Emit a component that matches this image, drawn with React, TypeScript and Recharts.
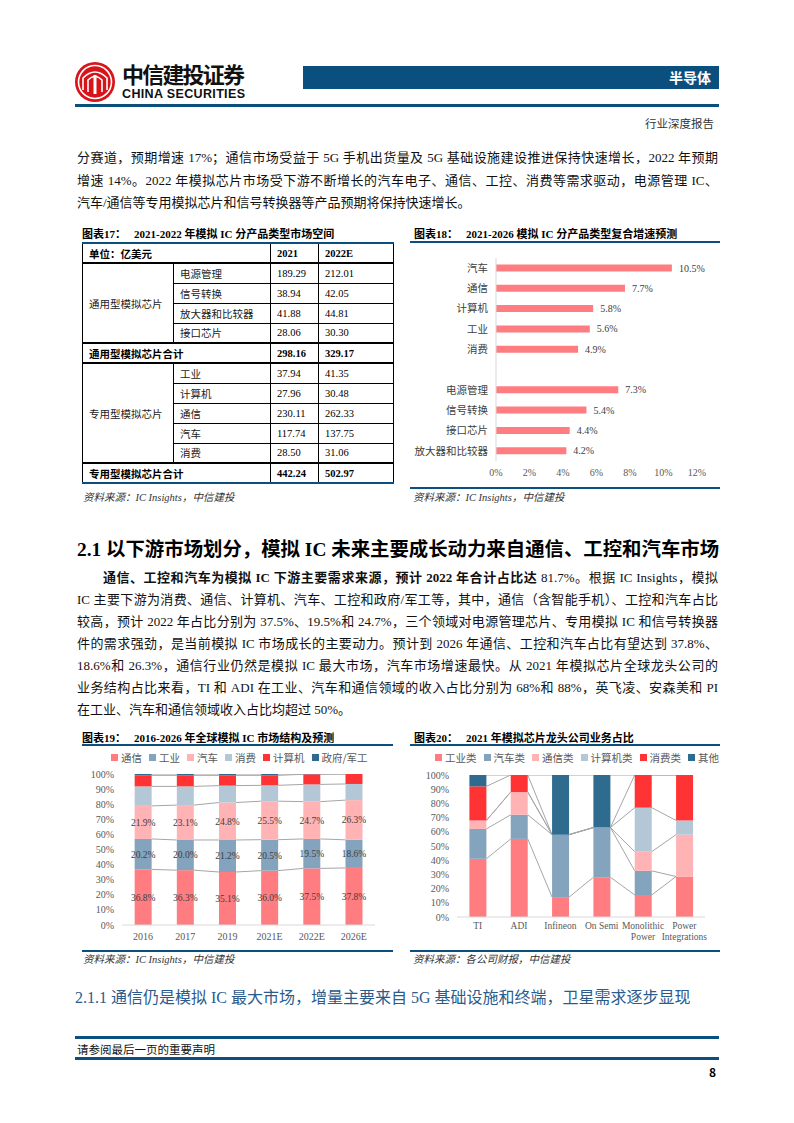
import React from "react"
import { BarChart, Bar, XAxis, YAxis, LabelList, Legend } from "recharts"

const SERIF = '"Liberation Serif", "Times New Roman", "Noto Sans CJK SC", serif'
const SANS = '"Noto Sans CJK SC", "Liberation Sans", sans-serif'
const BLUE = "#0B4F7F"
const AXIS_TEXT = "#595959"

// 图表17 表格
const tableYears = ["2021", "2022E"]
const generalItems = ["电源管理", "信号转换", "放大器和比较器", "接口芯片"]
const general2021 = ["189.29", "38.94", "41.88", "28.06"]
const general2022 = ["212.01", "42.05", "44.81", "30.30"]
const generalTotal = ["298.16", "329.17"]
const specialItems = ["工业", "计算机", "通信", "汽车", "消费"]
const special2021 = ["37.94", "27.96", "230.11", "117.74", "28.50"]
const special2022 = ["41.35", "30.48", "262.33", "137.75", "31.06"]
const specialTotal = ["442.24", "502.97"]

// 图表18
const cagrCategories = ["汽车", "通信", "计算机", "工业", "消费", "", "电源管理", "信号转换", "接口芯片", "放大器和比较器"]
const cagrValues = [10.5, 7.7, 5.8, 5.6, 4.9, null, 7.3, 5.4, 4.4, 4.2]
const cagrTicks = [0, 2, 4, 6, 8, 10, 12]

// 图表19
const marketYears = ["2016", "2017", "2019", "2021E", "2022E", "2026E"]
const marketNames = ["通信", "工业", "汽车", "消费", "计算机", "政府/军工"]
const marketComm = [36.8, 36.3, 35.1, 36.0, 37.5, 37.8]
const marketInd = [20.2, 20.0, 21.2, 20.5, 19.5, 18.6]
const marketAuto = [21.9, 23.1, 24.8, 25.5, 24.7, 26.3]
const marketCons = [12.9, 12.4, 11.2, 10.5, 11.4, 10.7]
const marketComp = [7.3, 7.3, 6.8, 6.6, 6.7, 6.6]
const marketGov = [0.9, 0.9, 0.9, 0.9, 0.2, 0.0]

// 图表20
const companies = ["TI", "ADI", "Infineon", "On Semi", "Monolithic\nPower", "Power\nIntegrations"]
const bizNames = ["工业类", "汽车类", "通信类", "计算机类", "消费类", "其他"]
const bizInd = [41, 55, 14, 28, 15.5, 28.5]
const bizAuto = [21, 17, 44, 35, 17, 0]
const bizComm = [6, 16, 0, 0, 13.5, 29.5]
const bizComp = [0, 0, 0, 0, 31, 10]
const bizCons = [24, 12, 0, 0, 23, 32]
const bizOther = [8, 0, 42, 37, 0, 0]

const pctTicks = [0, 10, 20, 30, 40, 50, 60, 70, 80, 90, 100]
const stackColors = ["#FF7C80", "#84A3BC", "#FFB3B5", "#B4C7D7", "#FF3333", "#2E6B8F"]
const keys = ["s0", "s1", "s2", "s3", "s4", "s5"]

const cagrData = cagrCategories.map((name, i) => ({ name, value: cagrValues[i] }))

const marketData = marketYears.map((name, i) => ({
  name,
  s0: marketComm[i],
  s1: marketInd[i],
  s2: marketAuto[i],
  s3: marketCons[i],
  s4: marketComp[i],
  s5: marketGov[i],
}))

const bizData = companies.map((name, i) => ({
  name,
  s0: bizInd[i],
  s1: bizAuto[i],
  s2: bizComm[i],
  s3: bizComp[i],
  s4: bizCons[i],
  s5: bizOther[i],
}))

const para1 = [
  "分赛道，预期增速 17%；通信市场受益于 5G 手机出货量及 5G 基础设施建设推进保持快速增长，2022 年预期",
  "增速 14%。2022 年模拟芯片市场受下游不断增长的汽车电子、通信、工控、消费等需求驱动，电源管理 IC、",
  "汽车/通信等专用模拟芯片和信号转换器等产品预期将保持快速增长。",
]

const para2 = [
  "IC 主要下游为消费、通信、计算机、汽车、工控和政府/军工等，其中，通信（含智能手机）、工控和汽车占比",
  "较高，预计 2022 年占比分别为 37.5%、19.5%和 24.7%，三个领域对电源管理芯片、专用模拟 IC 和信号转换器",
  "件的需求强劲，是当前模拟 IC 市场成长的主要动力。预计到 2026 年通信、工控和汽车占比有望达到 37.8%、",
  "18.6%和 26.3%，通信行业仍然是模拟 IC 最大市场，汽车市场增速最快。从 2021 年模拟芯片全球龙头公司的",
  "业务结构占比来看，TI 和 ADI 在工业、汽车和通信领域的收入占比分别为 68%和 88%，英飞凌、安森美和 PI",
  "在工业、汽车和通信领域收入占比均超过 50%。",
]

// bottom series draws the bar and the grey series lines to the next column
function seriesShape(data: any[], band: number) {
  return (props: any) => {
    const { x, y, width, height, payload, fill } = props
    const h = Math.abs(height)
    const top = Math.min(y, y + height)
    const bottom = top + h
    const idx = data.findIndex((d) => d.name === payload.name)
    const next = data[idx + 1]
    const k = h / payload.s0
    const lines: any[] = []
    if (next) {
      let c0 = 0
      let c1 = 0
      const x1 = x + width
      const x2 = x + band
      keys.forEach((key) => {
        c0 += payload[key]
        c1 += next[key]
        lines.push(
          <line key={key} x1={x1} y1={bottom - c0 * k} x2={x2} y2={bottom - c1 * k} stroke="#A6A6A6" strokeWidth={1} />
        )
      })
    }
    return (
      <g>
        {lines}
        <rect x={x} y={top} width={width} height={h} fill={fill} />
      </g>
    )
  }
}

function legendContent(names: string[], left: number, height: number) {
  return () => (
    <div
      style={{
        display: "flex",
        alignItems: "center",
        height,
        width: 310,
        paddingLeft: left,
        boxSizing: "border-box",
        paddingBottom: 8,
        fontFamily: SANS,
        fontSize: 10.5,
        color: AXIS_TEXT,
        whiteSpace: "nowrap",
      }}
    >
      {names.map((n, i) => (
        <span key={n} style={{ display: "flex", alignItems: "center", marginRight: 7, flexShrink: 0 }}>
          <span style={{ width: 7, height: 7, background: stackColors[i], marginRight: 3 }} />
          {n}
        </span>
      ))}
    </div>
  )
}

const MultiTick = (props: any) => {
  const { x, y, payload } = props
  const lines = String(payload.value).split("\n")
  return (
    <text x={x} y={y} textAnchor="middle" fontSize={9.5} fill={AXIS_TEXT} fontFamily={SERIF}>
      {lines.map((l, i) => (
        <tspan key={i} x={x} dy={i === 0 ? 4 : 10.5}>
          {l}
        </tspan>
      ))}
    </text>
  )
}

function StackChart(props: {
  data: any[]
  names: string[]
  labelled: boolean
  legendLeft: number
  legendHeight: number
  xHeight: number
  right: number
  multiTick?: boolean
}) {
  const W = 310
  const H = 200
  const yw = 44
  const band = (W - yw - props.right) / props.data.length
  return (
    <BarChart
      width={W}
      height={H}
      data={props.data}
      margin={{ top: 0, right: props.right, left: 0, bottom: 0 }}
      barCategoryGap="30%"
    >
      <Legend
        verticalAlign="top"
        align="left"
        height={props.legendHeight}
        content={legendContent(props.names, props.legendLeft, props.legendHeight)}
      />
      <XAxis
        dataKey="name"
        height={props.xHeight}
        tickLine={false}
        axisLine={{ stroke: "#D9D9D9" }}
        interval={0}
        tick={props.multiTick ? <MultiTick /> : { fontSize: 10, fill: AXIS_TEXT, fontFamily: SERIF }}
      />
      <YAxis
        width={yw}
        domain={[0, 100]}
        ticks={pctTicks}
        interval={0}
        allowDataOverflow
        tickLine={false}
        axisLine={false}
        tickFormatter={(v) => `${v}%`}
        tick={{ fontSize: 10, fill: AXIS_TEXT, fontFamily: SERIF }}
      />
      {keys.map((key, i) => (
        <Bar
          key={key}
          dataKey={key}
          name={props.names[i]}
          stackId="a"
          fill={stackColors[i]}
          isAnimationActive={false}
          shape={i === 0 ? seriesShape(props.data, band) : undefined}
        >
          {props.labelled && i < 3 ? (
            <LabelList
              dataKey={key}
              position="center"
              fontSize={9.5}
              fill="#404040"
              fontFamily={SERIF}
              formatter={(v: any) => `${Number(v).toFixed(1)}%`}
            />
          ) : null}
        </Bar>
      ))}
    </BarChart>
  )
}

function CagrChart() {
  return (
    <BarChart
      width={310}
      height={240}
      data={cagrData}
      layout="vertical"
      margin={{ top: 10, right: 23, left: 0, bottom: 0 }}
      barCategoryGap="32%"
    >
      <XAxis
        type="number"
        domain={[0, 12]}
        ticks={cagrTicks}
        height={27}
        tickLine={false}
        axisLine={false}
        tickFormatter={(v) => `${v}%`}
        tick={{ fontSize: 10, fill: AXIS_TEXT, fontFamily: SERIF }}
      />
      <YAxis
        type="category"
        dataKey="name"
        width={86}
        tickLine={false}
        axisLine={{ stroke: "#D9D9D9" }}
        interval={0}
        tick={{ fontSize: 10.5, fill: "#404040", fontFamily: SANS }}
      />
      <Bar dataKey="value" fill="#FF7C80" isAnimationActive={false}>
        <LabelList
          dataKey="value"
          position="right"
          offset={7}
          fontSize={10}
          fill="#404040"
          fontFamily={SERIF}
          formatter={(v: any) => (v == null ? "" : `${v}%`)}
        />
      </Bar>
    </BarChart>
  )
}

const abs = (left: number, top: number, extra: any = {}) => ({ position: "absolute" as const, left, top, ...extra })

function Title({ left, top, num, text }: { left: number; top: number; num: string; text: string }) {
  return (
    <div style={abs(left, top, { fontSize: 11, fontWeight: 700, fontFamily: SERIF, whiteSpace: "nowrap", lineHeight: "14px" })}>
      <span style={{ fontFamily: SANS }}>图表</span>
      {num}
      <span style={{ fontFamily: SANS }}>：</span>
      <span style={{ marginLeft: 8 }}>{text}</span>
    </div>
  )
}

function Source({ left, top, text }: { left: number; top: number; text: string }) {
  return (
    <div style={abs(left, top, { fontSize: 10.5, fontStyle: "italic", fontFamily: SERIF, color: "#333", whiteSpace: "nowrap" })}>
      {text}
    </div>
  )
}

const HLine = ({ left, top, width, h = 2 }: { left: number; top: number; width: number; h?: number }) => (
  <div style={abs(left, top, { width, height: h, background: BLUE })} />
)

function Line({ top, children, last, indent }: { top: number; children: any; last?: boolean; indent?: number }) {
  return (
    <div
      style={abs(77 + (indent || 0), top, {
        width: 641 - (indent || 0),
        fontSize: 13,
        lineHeight: "18px",
        fontFamily: SERIF,
        color: "#111",
        whiteSpace: "nowrap",
        textAlign: "justify",
        textAlignLast: last ? "left" : "justify",
      })}
    >
      {children}
    </div>
  )
}

const cell: any = {
  border: "1px solid #000",
  padding: "0 6px",
  height: 20,
  fontSize: 10.5,
  fontFamily: SERIF,
  whiteSpace: "nowrap",
  boxSizing: "border-box",
}
const boldCell: any = { ...cell, fontWeight: 700 }
const thick: any = { borderTop: "2px solid #000" }

function MarketTable() {
  return (
    <table
      style={{
        ...abs(82, 242),
        width: 311,
        borderCollapse: "collapse",
        tableLayout: "fixed",
        borderTop: `2px solid ${BLUE}`,
        borderBottom: `2px solid ${BLUE}`,
      }}
    >
      <colgroup>
        <col style={{ width: 91 }} />
        <col style={{ width: 97 }} />
        <col style={{ width: 48 }} />
        <col style={{ width: 75 }} />
      </colgroup>
      <tbody>
        <tr>
          <td colSpan={2} style={{ ...boldCell, borderTop: `2px solid ${BLUE}`, fontFamily: SANS }}>单位：亿美元</td>
          <td style={{ ...boldCell, borderTop: `2px solid ${BLUE}` }}>{tableYears[0]}</td>
          <td style={{ ...boldCell, borderTop: `2px solid ${BLUE}` }}>{tableYears[1]}</td>
        </tr>
        {generalItems.map((item, i) => (
          <tr key={item}>
            {i === 0 ? (
              <td rowSpan={4} style={{ ...cell, ...thick, fontFamily: SANS, color: "#222" }}>通用型模拟芯片</td>
            ) : null}
            <td style={{ ...cell, ...(i === 0 ? thick : {}), fontFamily: SANS, color: "#222" }}>{item}</td>
            <td style={{ ...cell, ...(i === 0 ? thick : {}) }}>{general2021[i]}</td>
            <td style={{ ...cell, ...(i === 0 ? thick : {}) }}>{general2022[i]}</td>
          </tr>
        ))}
        <tr>
          <td colSpan={2} style={{ ...boldCell, ...thick, fontFamily: SANS }}>通用型模拟芯片合计</td>
          <td style={{ ...boldCell, ...thick }}>{generalTotal[0]}</td>
          <td style={{ ...boldCell, ...thick }}>{generalTotal[1]}</td>
        </tr>
        {specialItems.map((item, i) => (
          <tr key={item}>
            {i === 0 ? (
              <td rowSpan={5} style={{ ...cell, ...thick, fontFamily: SANS, color: "#222" }}>专用型模拟芯片</td>
            ) : null}
            <td style={{ ...cell, ...(i === 0 ? thick : {}), fontFamily: SANS, color: "#222" }}>{item}</td>
            <td style={{ ...cell, ...(i === 0 ? thick : {}) }}>{special2021[i]}</td>
            <td style={{ ...cell, ...(i === 0 ? thick : {}) }}>{special2022[i]}</td>
          </tr>
        ))}
        <tr>
          <td colSpan={2} style={{ ...boldCell, ...thick, fontFamily: SANS }}>专用型模拟芯片合计</td>
          <td style={{ ...boldCell, ...thick }}>{specialTotal[0]}</td>
          <td style={{ ...boldCell, ...thick }}>{specialTotal[1]}</td>
        </tr>
      </tbody>
    </table>
  )
}

function Logo() {
  return (
    <svg style={abs(74, 54)} width={178} height={52}>
      <circle cx={21} cy={28} r={20} fill="#D7141A" />
      <circle cx={21} cy={28} r={16.5} fill="none" stroke="#fff" strokeWidth={1.6} />
      <path d="M9 36 V24 Q21 12 33 24 V36" fill="none" stroke="#fff" strokeWidth={1.6} />
      <path d="M14 38 V26 Q21 19 28 26 V38" fill="none" stroke="#fff" strokeWidth={1.6} />
      <rect x={19.5} y={21} width={3} height={19} fill="#fff" />
      <text x={48} y={29} fontSize={22} fontWeight={700} fontFamily={SANS} fill="#111" textLength={123}>
        中信建投证券
      </text>
      <text x={48} y={44} fontSize={12.5} fontWeight={700} fontFamily='"Liberation Sans", Arial, sans-serif' fill="#111" textLength={123}>
        CHINA SECURITIES
      </text>
    </svg>
  )
}

export default function App() {
  return (
    <div style={{ position: "absolute", left: 0, top: 0, width: 794, height: 1123, background: "#fff", fontFamily: SERIF }}>
      <Logo />
      <div style={abs(303, 66, { width: 416, height: 23, background: BLUE })} />
      <div style={abs(600, 66, { width: 111, height: 23, lineHeight: "23px", textAlign: "right", color: "#fff", fontWeight: 700, fontSize: 14, fontFamily: SANS })}>
        半导体
      </div>
      <HLine left={75} top={104} width={644} h={3} />
      <div style={abs(600, 115, { width: 114, textAlign: "right", fontSize: 11.5, color: "#333", fontFamily: SANS })}>行业深度报告</div>

      <Line top={149}>{para1[0]}</Line>
      <Line top={172}>{para1[1]}</Line>
      <Line top={194} last>{para1[2]}</Line>

      <Title left={82} top={226} num="17" text="2021-2022 年模拟 IC 分产品类型市场空间" />
      <MarketTable />
      <Source left={83} top={489} text="资料来源：IC Insights，中信建投" />

      <Title left={414} top={226} num="18" text="2021-2026 模拟 IC 分产品类型复合增速预测" />
      <HLine left={410} top={241} width={310} />
      <div style={abs(410, 248)}>
        <CagrChart />
      </div>
      <HLine left={410} top={487} width={310} h={1.5} />
      <Source left={413} top={489} text="资料来源：IC Insights，中信建投" />

      <div style={abs(77, 536, { fontSize: 19.4, fontWeight: 700, fontFamily: SERIF, whiteSpace: "nowrap", color: "#000", lineHeight: "24px" })}>
        2.1 <span style={{ fontFamily: SANS }}>以下游市场划分，模拟</span> IC <span style={{ fontFamily: SANS }}>未来主要成长动力来自通信、工控和汽车市场</span>
      </div>

      <Line top={569} indent={26}>
        <b>通信、工控和汽车为模拟 IC 下游主要需求来源，预计 2022 年合计占比达</b> 81.7%。根据 IC Insights，模拟
      </Line>
      {para2.map((t, i) => (
        <Line key={i} top={591 + i * 22} last={i === para2.length - 1}>
          {t}
        </Line>
      ))}

      <Title left={82} top={730} num="19" text="2016-2026 年全球模拟 IC 市场结构及预测" />
      <HLine left={82} top={744} width={311} />
      <div style={abs(78, 748)}>
        <StackChart data={marketData} names={marketNames} labelled legendLeft={33} legendHeight={26} xHeight={23} right={13} />
      </div>
      <HLine left={82} top={950} width={311} h={1.5} />
      <Source left={83} top={951} text="资料来源：IC Insights，中信建投" />

      <Title left={414} top={730} num="20" text="2021 年模拟芯片龙头公司业务占比" />
      <HLine left={410} top={744} width={310} />
      <div style={abs(413, 748)}>
        <StackChart data={bizData} names={bizNames} labelled={false} legendLeft={22} legendHeight={27} xHeight={31} right={18} multiTick />
      </div>
      <HLine left={410} top={950} width={310} h={1.5} />
      <Source left={413} top={951} text="资料来源：各公司财报，中信建投" />

      <div style={abs(75, 985, { fontSize: 16, color: "#2B5B8C", fontFamily: SERIF, whiteSpace: "nowrap", lineHeight: "22px" })}>
        2.1.1 <span style={{ fontFamily: SANS }}>通信仍是模拟</span> IC <span style={{ fontFamily: SANS }}>最大市场，增量主要来自</span> 5G{" "}
        <span style={{ fontFamily: SANS }}>基础设施和终端，卫星需求逐步显现</span>
      </div>

      <HLine left={75} top={1036} width={644} h={2.5} />
      <div style={abs(77, 1041, { fontSize: 11.5, fontFamily: SANS, color: "#111" })}>请参阅最后一页的重要声明</div>
      <HLine left={75} top={1057} width={644} h={2.5} />
      <div style={abs(700, 1063, { width: 16, textAlign: "right", fontSize: 12, fontWeight: 700, fontFamily: SANS })}>8</div>
    </div>
  )
}
